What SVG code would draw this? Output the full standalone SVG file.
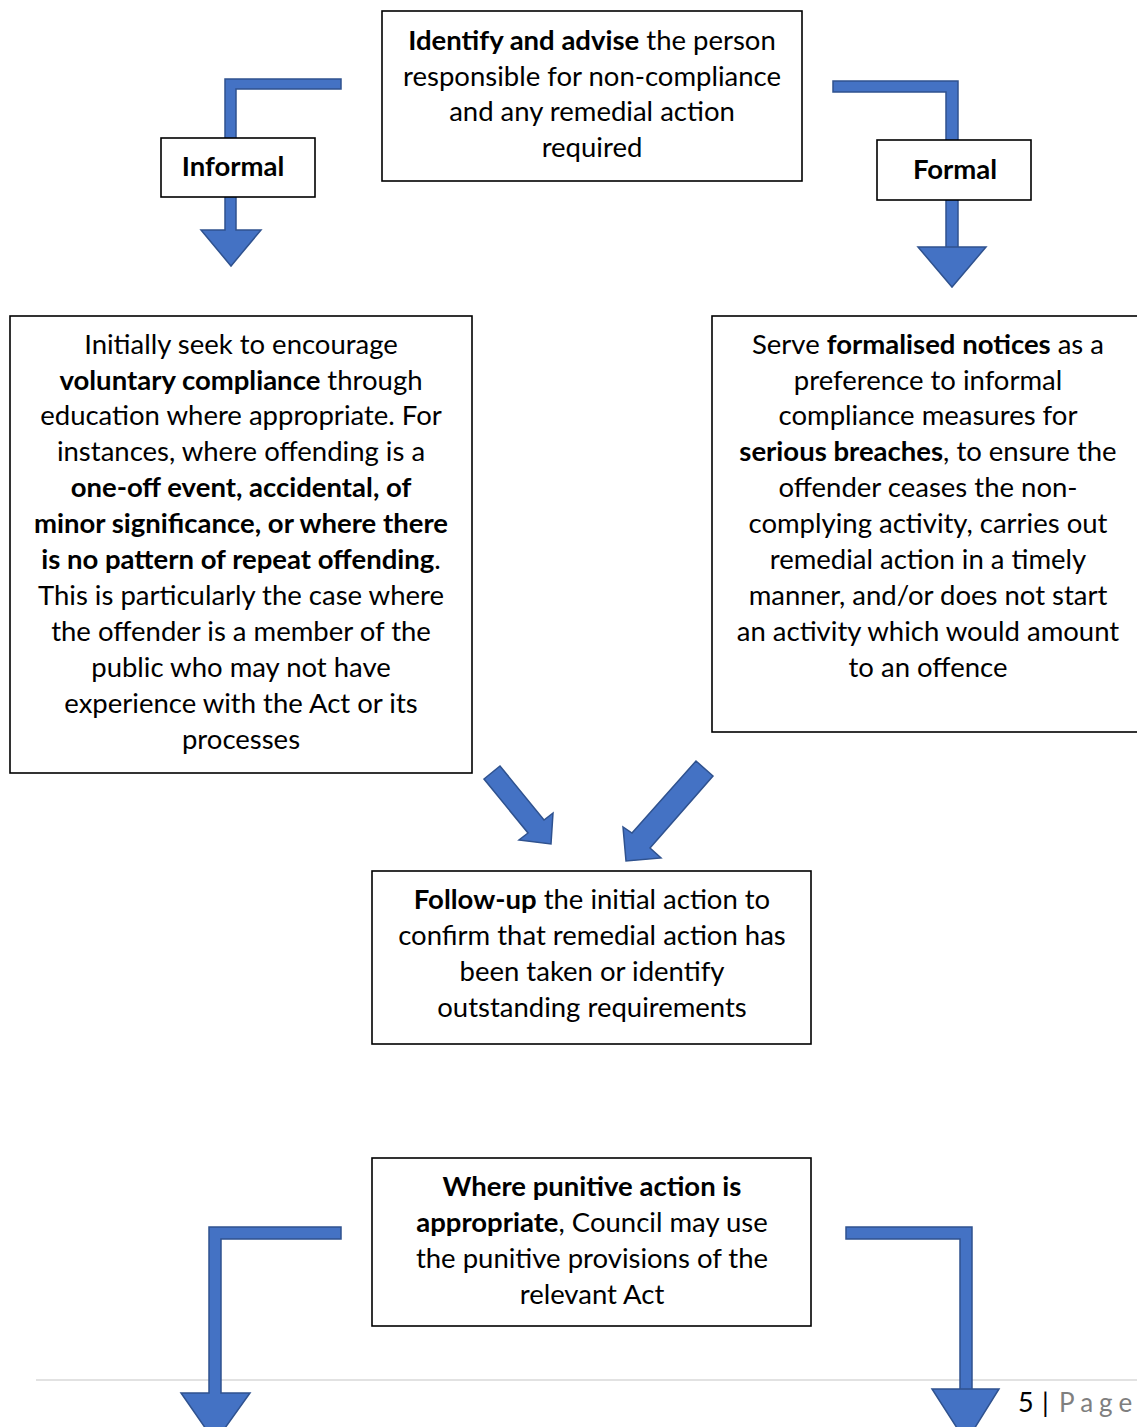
<svg xmlns="http://www.w3.org/2000/svg" width="1137" height="1427" viewBox="0 0 1137 1427">
<style>
.box{fill:#fff;stroke:#000;stroke-width:1.6}
.arr{fill:#4472C4;stroke:#2F528F;stroke-width:1.5;stroke-linejoin:miter}
text{font-family:Lato,"Open Sans","Liberation Sans",sans-serif;font-size:27.5px;fill:#000;text-anchor:middle}
.b{font-weight:bold}
.grey{fill:#7f7f7f}
</style>
<rect width="1137" height="1427" fill="#fff"/>
<line x1="36" y1="1380" x2="1137" y2="1380" stroke="#d9d9d9" stroke-width="1.5"/>
<g id="connectors">
<polygon class="arr" points="341,79 341,89 236,89 236,230 261,230 231,266 201,230 225,230 225,79"/>
<polygon class="arr" points="833,81 833,92 946,92 946,247 986,247 952,287 918,247 958,247 958,81"/>
<polygon class="arr" points="484,779 500,766 544,820 553,813 551,844 519,840 528,833"/>
<polygon class="arr" points="696,761 713,776 650,848 661,858 626,861 623,827 632,833"/>
<polygon class="arr" points="341,1227 341,1239 221,1239 221,1393 250,1393 215,1442 181,1393 209,1393 209,1227"/>
<polygon class="arr" points="846,1227 846,1239 960,1239 960,1389 999,1389 966,1442 932,1389 972,1389 972,1227"/>
</g>
<g id="node-identify">
<rect class="box" x="382" y="11" width="420" height="170"/>
<text x="592" y="50"><tspan class="b">Identify and advise</tspan> the person</text>
<text x="592" y="86">responsible for non-compliance</text>
<text x="592" y="121">and any remedial action</text>
<text x="592" y="157">required</text>
</g>
<g id="node-informal">
<rect class="box" x="161" y="138" width="154" height="59"/>
<text class="b" x="233" y="176">Informal</text>
</g>
<g id="node-formal">
<rect class="box" x="877" y="140" width="154" height="60"/>
<text class="b" x="955" y="179">Formal</text>
</g>
<g id="node-informal-detail">
<rect class="box" x="10" y="316" width="462" height="457"/>
<text x="241" y="354">Initially seek to encourage</text>
<text x="241" y="390"><tspan class="b">voluntary compliance</tspan> through</text>
<text x="241" y="425">education where appropriate. For</text>
<text x="241" y="461">instances, where offending is a</text>
<text x="241" y="497" class="b">one-off event, accidental, of</text>
<text x="241" y="533" class="b">minor significance, or where there</text>
<text x="241" y="569"><tspan class="b">is no pattern of repeat offending</tspan>.</text>
<text x="241" y="605">This is particularly the case where</text>
<text x="241" y="641">the offender is a member of the</text>
<text x="241" y="677">public who may not have</text>
<text x="241" y="713">experience with the Act or its</text>
<text x="241" y="749">processes</text>
</g>
<g id="node-formal-detail">
<rect class="box" x="712" y="316" width="430" height="416"/>
<text x="928" y="354">Serve <tspan class="b">formalised notices</tspan> as a</text>
<text x="928" y="390">preference to informal</text>
<text x="928" y="425">compliance measures for</text>
<text x="928" y="461"><tspan class="b">serious breaches</tspan>, to ensure the</text>
<text x="928" y="497">offender ceases the non-</text>
<text x="928" y="533">complying activity, carries out</text>
<text x="928" y="569">remedial action in a timely</text>
<text x="928" y="605">manner, and/or does not start</text>
<text x="928" y="641">an activity which would amount</text>
<text x="928" y="677">to an offence</text>
</g>
<g id="node-followup">
<rect class="box" x="372" y="871" width="439" height="173"/>
<text x="592" y="909"><tspan class="b">Follow-up</tspan> the initial action to</text>
<text x="592" y="945">confirm that remedial action has</text>
<text x="592" y="981">been taken or identify</text>
<text x="592" y="1017">outstanding requirements</text>
</g>
<g id="node-punitive">
<rect class="box" x="372" y="1158" width="439" height="168"/>
<text x="592" y="1196" class="b">Where punitive action is</text>
<text x="592" y="1232"><tspan class="b">appropriate</tspan>, Council may use</text>
<text x="592" y="1268">the punitive provisions of the</text>
<text x="592" y="1304">relevant Act</text>
</g>
<g id="footer">
<text x="1018" y="1412" style="text-anchor:start;font-size:27px">5</text>
<text x="1042" y="1412" style="text-anchor:start;font-size:27px">|</text>
<text class="grey" x="1059" y="1412" style="text-anchor:start;font-size:26px;letter-spacing:6px">Page</text>
</g>
</svg>
